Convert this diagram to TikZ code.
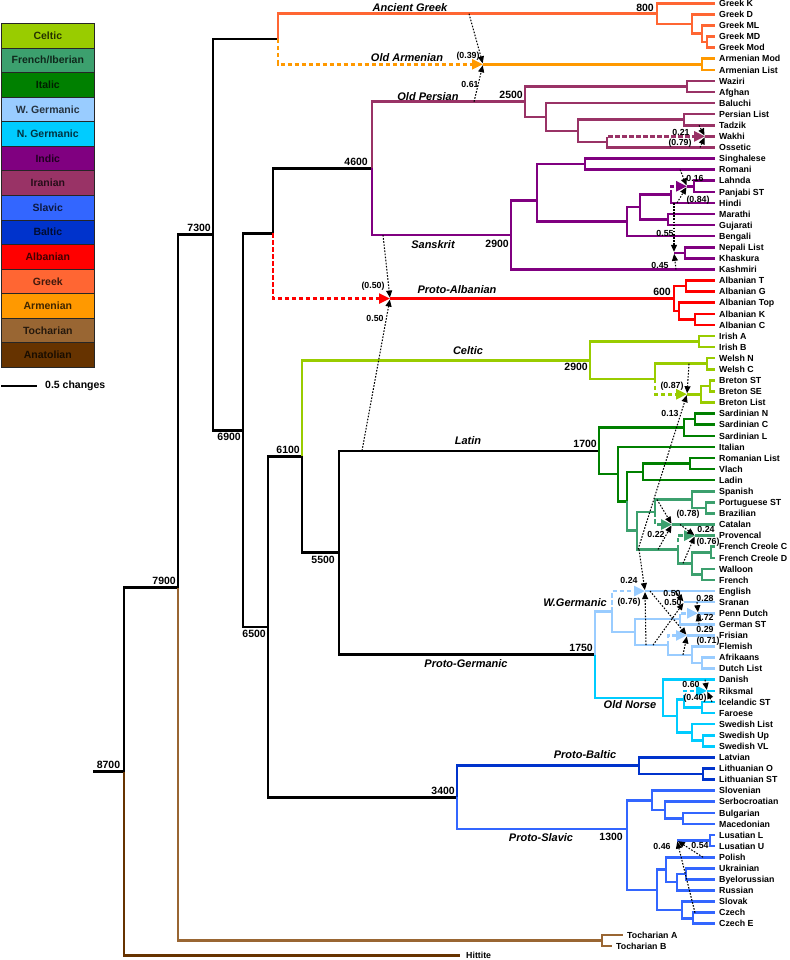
\documentclass[tikz,border=0pt]{standalone}
\usepackage{fontspec}
\setmainfont{Liberation Sans}
\usetikzlibrary{calc,arrows.meta}
\definecolor{cCel}{RGB}{153,204,0}
\definecolor{cFre}{RGB}{60,160,110}
\definecolor{cIta}{RGB}{0,128,0}
\definecolor{cWG}{RGB}{153,204,255}
\definecolor{cNG}{RGB}{0,204,255}
\definecolor{cInd}{RGB}{128,0,128}
\definecolor{cIra}{RGB}{153,51,102}
\definecolor{cSla}{RGB}{51,102,255}
\definecolor{cBal}{RGB}{0,51,204}
\definecolor{cAlb}{RGB}{255,0,0}
\definecolor{cGrk}{RGB}{255,102,51}
\definecolor{cArm}{RGB}{255,153,0}
\definecolor{cToc}{RGB}{153,102,51}
\definecolor{cAna}{RGB}{102,51,0}
\newcommand{\inode}[4]{\path let \p1=($(#2)!.5!(#3)$) in coordinate (#1) at (#4pt,\y1);}
\newcommand{\atx}[3]{\path let \p1=(#2) in coordinate (#1) at (#3pt,\y1);}
\begin{document}
\begin{tikzpicture}[x=1pt,y=-1pt,
  br/.style={line width=2.6pt},
  hyb/.style={line width=2.6pt, dash pattern=on 4.5pt off 2.5pt, -{Triangle[length=11pt,width=10pt]}},
  tr/.style={black, line width=1.05pt, dash pattern=on 1.6pt off 1.5pt, -{Triangle[length=7pt,width=6pt]}, shorten >=1pt},
  leaf/.style={anchor=base west, font=\fontsize{8.8}{9}\selectfont\bfseries, inner sep=0pt},
  clade/.style={font=\fontsize{11}{12}\selectfont\bfseries\itshape, inner sep=0pt},
  date/.style={font=\fontsize{10.5}{11}\selectfont\bfseries, inner sep=0pt},
  pr/.style={font=\fontsize{8.8}{9}\selectfont\bfseries, inner sep=0pt},
  lg/.style={draw=black!85, line width=0.6pt, minimum width=93pt, minimum height=24.57pt, anchor=north west, inner sep=0pt, font=\fontsize{10.5}{11}\selectfont\bfseries}
]
\useasboundingbox (0,0) rectangle (789,960);
% ---------- legend
\foreach \c/\t [count=\k from 0] in {cCel/Celtic,cFre/{French/Iberian},cIta/Italic,cWG/{W. Germanic},cNG/{N. Germanic},cInd/Indic,cIra/Iranian,cSla/Slavic,cBal/Baltic,cAlb/Albanian,cGrk/Greek,cArm/Armenian,cToc/Tocharian,cAna/Anatolian}{
  \node[lg, fill=\c, text=\c!25!black] (Lg\k) at (1,{23+24.57*\k}) {\t};
}
\coordinate (sb1) at (1,386); \coordinate (sb2) at (37,386);
\draw[line width=2pt] (sb1) -- (sb2);
\node[date, anchor=west] (sbt) at (45,386) {0.5 changes};
% ---------- leaves
\foreach \nm [count=\i from 0] in {Greek K,Greek D,Greek ML,Greek MD,Greek Mod,Armenian Mod,Armenian List,Waziri,Afghan,Baluchi,Persian List,Tadzik,Wakhi,Ossetic,Singhalese,Romani,Lahnda,Panjabi ST,Hindi,Marathi,Gujarati,Bengali,Nepali List,Khaskura,Kashmiri,Albanian T,Albanian G,Albanian Top,Albanian K,Albanian C,Irish A,Irish B,Welsh N,Welsh C,Breton ST,Breton SE,Breton List,Sardinian N,Sardinian C,Sardinian L,Italian,Romanian List,Vlach,Ladin,Spanish,Portuguese ST,Brazilian,Catalan,Provencal,French Creole C,French Creole D,Walloon,French,English,Sranan,Penn Dutch,German ST,Frisian,Flemish,Afrikaans,Dutch List,Danish,Riksmal,Icelandic ST,Faroese,Swedish List,Swedish Up,Swedish VL,Latvian,Lithuanian O,Lithuanian ST,Slovenian,Serbocroatian,Bulgarian,Macedonian,Lusatian L,Lusatian U,Polish,Ukrainian,Byelorussian,Russian,Slovak,Czech,Czech E}{
  \coordinate (L\i) at (715,{3.3+11.09*\i});
  \node[leaf] (T\i) at ($(L\i)+(4,3.2)$) {\nm};
}
\coordinate (L84) at (623,{3.3+11.09*84}); \node[leaf] (T84) at ($(L84)+(4,3.2)$) {Tocharian A};
\coordinate (L85) at (612,{3.3+11.09*85}); \node[leaf] (T85) at ($(L85)+(4,3.2)$) {Tocharian B};
\coordinate (L86) at (460,955.5); \node[leaf] (T86) at ($(L86)+(6,2.8)$) {Hittite};
% ---------- internal nodes
\inode{nGMM}{L3}{L4}{707}
\inode{nGML}{L2}{nGMM}{702}
\inode{nGD}{L1}{nGML}{692}
\inode{nGreek}{L0}{nGD}{657}
\inode{nArm}{L5}{L6}{702}
\atx{tArm}{nArm}{483}
\inode{nWA}{L7}{L8}{687}
\inode{nPT}{L10}{L11}{684}
\inode{nWO}{L12}{L13}{607}
\atx{tWak}{L12}{705}
\inode{nPTWO}{nPT}{nWO}{578}
\inode{nBal}{L9}{nPTWO}{546}
\inode{nIran}{nWA}{nBal}{525}
\inode{nSR}{L14}{L15}{585}
\inode{nLP}{L16}{L17}{694}
\atx{tLP}{nLP}{687}
\inode{nHi}{nLP}{L18}{671}
\inode{nMG}{L19}{L20}{668}
\inode{nHM}{nHi}{nMG}{640}
\inode{nBe}{nHM}{L21}{627}
\inode{nNK}{L22}{L23}{685}
\atx{tNK}{nNK}{674}
\inode{nBeNK}{nBe}{nNK}{627}
\inode{nSB}{nSR}{nBeNK}{537}
\inode{nIndic}{nSB}{L24}{511}
\inode{n4600}{nIran}{nIndic}{372}
\inode{nAT}{L25}{L26}{686}
\inode{nAK}{L28}{L29}{695}
\inode{nATop}{L27}{nAK}{679}
\inode{nAlb}{nAT}{nATop}{674}
\atx{tAlb}{nAlb}{390}
\inode{nIIA}{n4600}{nAlb}{273}
\inode{nIr}{L30}{L31}{699}
\inode{nWe}{L32}{L33}{707}
\inode{nBST}{L34}{L35}{710}
\inode{nBr}{nBST}{L36}{701}
\atx{tBr}{nBr}{687}
\inode{nBry}{nWe}{nBr}{655}
\inode{nCel}{nIr}{nBry}{590}
\inode{nSNC}{L37}{L38}{695}
\inode{nSard}{nSNC}{L39}{684}
\inode{nRV}{L41}{L42}{690}
\inode{nRVL}{nRV}{L43}{643}
\inode{nPB}{L45}{L46}{706}
\inode{nSp}{L44}{nPB}{692}
\inode{nSpCa}{nSp}{L47}{655}
\atx{tCa}{L47}{672}
\inode{nFC}{L49}{L50}{711}
\inode{nWF}{L51}{L52}{702}
\inode{nFCWF}{nFC}{nWF}{692}
\inode{nPr}{L48}{nFCWF}{678}
\atx{tPr}{L48}{695}
\inode{nFI}{nSpCa}{nPr}{637}
\inode{nRoFI}{nRVL}{nFI}{627}
\inode{nItRo}{L40}{nRoFI}{618}
\inode{nLatin}{nSard}{nItRo}{599}
\inode{nPD}{L55}{L56}{680}
\atx{tPD}{L55}{698}
\atx{tSr}{L54}{684}
\inode{nAD}{L59}{L60}{702}
\inode{nFAD}{L58}{nAD}{692}
\inode{nFr}{L57}{nFAD}{668}
\atx{tFr}{L57}{687}
\inode{nWG2}{nPD}{nFr}{635}
\inode{nWG}{L53}{nWG2}{612}
\atx{tEn}{L53}{645}
\inode{nIF}{L63}{L64}{702}
\inode{nRi}{L62}{nIF}{684}
\atx{tRi}{L62}{707}
\inode{nUV}{L66}{L67}{703}
\inode{nSw}{L65}{nUV}{692}
\inode{nRS}{nRi}{nSw}{677}
\inode{nNorse}{L61}{nRS}{663}
\inode{nPG}{nWG}{nNorse}{595}
\inode{n5500}{nLatin}{nPG}{339}
\inode{n6100}{nCel}{n5500}{302}
\inode{nLith}{L69}{L70}{703}
\inode{nBaltic}{L68}{nLith}{639}
\inode{nBM}{L73}{L74}{683}
\inode{nSBM}{L72}{nBM}{665}
\inode{nSlo}{L71}{nSBM}{652}
\inode{nLus}{L75}{L76}{710}
\atx{tLus}{nLus}{677}
\inode{nUB}{L78}{L79}{686}
\inode{nUBR}{nUB}{L80}{677}
\inode{nPE}{L77}{nUBR}{666}
\inode{nCz}{L82}{L83}{693}
\inode{nSk}{L81}{nCz}{682}
\inode{nPECS}{nPE}{nSk}{657}
\coordinate (nSlavic) at (627,829);
\inode{n3400}{nBaltic}{nSlavic}{457}
\inode{n6500}{n6100}{n3400}{268}
\inode{n6900}{nIIA}{n6500}{243}
\inode{nGA}{nGreek}{nArm}{278}
\inode{n7300}{nGA}{n6900}{213}
\inode{nToch}{L84}{L85}{602}
\inode{n7900}{n7300}{nToch}{178}
\inode{nRoot}{n7900}{L86}{124}
\atx{rootS}{nRoot}{93}
% ---------- branches
\draw[br] (rootS) -- (nRoot) (nRoot) |- (n7900) (n7900) |- (n7300) (n7300) |- (nGA) (n7300) |- (n6900)
  (n6900) |- (nIIA) (n6900) |- (n6500) (nIIA) |- (n4600) (n6500) |- (n6100) (n6500) |- (n3400)
  (n6100) |- (n5500) (n5500) |- (nLatin) (n5500) |- (nPG);
\draw[br,cAna] (nRoot) |- (L86);
\draw[br,cToc] (n7900) |- (nToch) (nToch) |- (L84) (nToch) |- (L85);
\draw[br,cGrk] (nGA) |- (nGreek) (nGreek) |- (L0) (nGreek) |- (nGD) (nGD) |- (L1) (nGD) |- (nGML) (nGML) |- (L2) (nGML) |- (nGMM) (nGMM) |- (L3) (nGMM) |- (L4);
\draw[hyb,cArm] (nGA) |- (tArm);
\draw[br,cArm] (tArm) -- (nArm) (nArm) |- (L5) (nArm) |- (L6);
\draw[hyb,cAlb] (nIIA) |- (tAlb);
\draw[br,cAlb] (tAlb) -- (nAlb) (nAlb) |- (nAT) (nAlb) |- (nATop) (nAT) |- (L25) (nAT) |- (L26) (nATop) |- (L27) (nATop) |- (nAK) (nAK) |- (L28) (nAK) |- (L29);
\draw[br,cIra] (n4600) |- (nIran) (nIran) |- (nWA) (nIran) |- (nBal) (nWA) |- (L7) (nWA) |- (L8) (nBal) |- (L9) (nBal) |- (nPTWO) (nPTWO) |- (nPT) (nPTWO) |- (nWO) (nPT) |- (L10) (nPT) |- (L11) (nWO) |- (L13) (tWak) -- (L12);
\draw[hyb,cIra] (nWO) |- (tWak);
\draw[br,cInd] (n4600) |- (nIndic) (nIndic) |- (nSB) (nIndic) |- (L24) (nSB) |- (nSR) (nSB) |- (nBe) (nSR) |- (L14) (nSR) |- (L15) (nBe) |- (nHM) (nBe) |- (L21) (nHM) |- (nHi) (nHM) |- (nMG) (nMG) |- (L19) (nMG) |- (L20) (nHi) |- (L18) (tLP) -- (nLP) (nLP) |- (L16) (nLP) |- (L17) (tNK) -- (nNK) (nNK) |- (L22) (nNK) |- (L23);
\draw[hyb,cInd] (nHi) |- (tLP);
\draw[br,cCel] (n6100) |- (nCel) (nCel) |- (nIr) (nCel) |- (nBry) (nIr) |- (L30) (nIr) |- (L31) (nBry) |- (nWe) (nWe) |- (L32) (nWe) |- (L33) (tBr) -- (nBr) (nBr) |- (nBST) (nBr) |- (L36) (nBST) |- (L34) (nBST) |- (L35);
\draw[hyb,cCel] (nBry) |- (tBr);
\draw[br,cIta] (nLatin) |- (nSard) (nLatin) |- (nItRo) (nSard) |- (nSNC) (nSard) |- (L39) (nSNC) |- (L37) (nSNC) |- (L38) (nItRo) |- (L40) (nItRo) |- (nRoFI) (nRoFI) |- (nRVL) (nRVL) |- (nRV) (nRVL) |- (L43) (nRV) |- (L41) (nRV) |- (L42);
\draw[br,cFre] (nRoFI) |- (nFI) (nFI) |- (nSpCa) (nFI) |- (nPr) (nSpCa) |- (nSp) (nSp) |- (L44) (nSp) |- (nPB) (nPB) |- (L45) (nPB) |- (L46) (tCa) -- (L47) (tPr) -- (L48) (nPr) |- (nFCWF) (nFCWF) |- (nFC) (nFCWF) |- (nWF) (nFC) |- (L49) (nFC) |- (L50) (nWF) |- (L51) (nWF) |- (L52);
\draw[hyb,cFre] (nSpCa) |- (tCa);
\draw[hyb,cFre] (nPr) |- (tPr);
\draw[br,cWG] (nPG) |- (nWG) (nWG) |- (nWG2) (nWG2) |- (nPD) (nWG2) |- (nFr) (tEn) -- (L53) (tSr) -- (L54) (tPD) -- (L55) (nPD) |- (L56) (tFr) -- (L57) (nFr) |- (nFAD) (nFAD) |- (L58) (nFAD) |- (nAD) (nAD) |- (L59) (nAD) |- (L60);
\draw[hyb,cWG] (nWG) |- (tEn);
\draw[hyb,cWG] (nPD) |- (tPD);
\draw[hyb,cWG] (nFr) |- (tFr);
\draw[br,cNG] (nPG) |- (nNorse) (nNorse) |- (L61) (nNorse) |- (nRS) (nRS) |- (nRi) (nRS) |- (nSw) (tRi) -- (L62) (nRi) |- (nIF) (nIF) |- (L63) (nIF) |- (L64) (nSw) |- (L65) (nSw) |- (nUV) (nUV) |- (L66) (nUV) |- (L67);
\draw[hyb,cNG] (nRi) |- (tRi);
\draw[br,cBal] (n3400) |- (nBaltic) (nBaltic) |- (L68) (nBaltic) |- (nLith) (nLith) |- (L69) (nLith) |- (L70);
\draw[br,cSla] (n3400) |- (nSlavic) (nSlavic) |- (nSlo) (nSlavic) |- (nPECS) (nSlo) |- (L71) (nSlo) |- (nSBM) (nSBM) |- (L72) (nSBM) |- (nBM) (nBM) |- (L73) (nBM) |- (L74) (tLus) -- (nLus) (nLus) |- (L75) (nLus) |- (L76) (nPECS) |- (nPE) (nPECS) |- (nSk) (nPE) |- (L77) (nPE) |- (nUBR) (nUBR) |- (nUB) (nUBR) |- (L80) (nUB) |- (L78) (nUB) |- (L79) (nSk) |- (L81) (nSk) |- (nCz) (nCz) |- (L82) (nCz) |- (L83);
% ---------- transfer arrows
\atx{sArm1}{nGreek}{469} \atx{sArm2}{nIran}{474}
\atx{sAlb1}{nIndic}{383} \atx{sAlb2}{nLatin}{362}
\atx{sWak1}{L11}{699} \atx{sWak2}{L13}{700}
\atx{sLP1}{L15}{680} \atx{sLP2}{L18}{677}
\atx{sNK1}{L18}{674} \atx{sNK2}{L24}{676}
\atx{sBr1}{nWe}{689} \atx{sBr2}{nPr}{638}
\atx{sCa1}{nSp}{657} \atx{sCa2}{nPr}{658}
\atx{sPr1}{L47}{680} \atx{sPr2}{nFCWF}{683}
\atx{sEn1}{nPr}{639} \atx{sEn2}{nFr}{646}
\atx{sSr1}{L53}{675} \atx{sSr2}{nFr}{653}
\atx{sPD1}{L54}{697} \atx{sPD2}{L56}{699}
\atx{sFr1}{L53}{650} \atx{sFr2}{nFAD}{683}
\atx{sRi1}{L61}{705} \atx{sRi2}{L63}{712}
\atx{sLus1}{L82}{695} \atx{sLus2}{L77}{703}
\draw[tr] (sArm1) -- (tArm); \draw[tr] (sArm2) -- (tArm);
\draw[tr] (sAlb1) -- (tAlb); \draw[tr] (sAlb2) -- (tAlb);
\draw[tr] (sWak1) -- (tWak); \draw[tr] (sWak2) -- (tWak);
\draw[tr] (sLP1) -- (tLP); \draw[tr] (sLP2) -- (tLP);
\draw[tr] (sNK1) -- (tNK); \draw[tr] (sNK2) -- (tNK);
\draw[tr] (sBr1) -- (tBr); \draw[tr] (sBr2) -- (tBr);
\draw[tr] (sCa1) -- (tCa); \draw[tr] (sCa2) -- (tCa);
\draw[tr] (sPr1) -- (tPr); \draw[tr] (sPr2) -- (tPr);
\draw[tr] (sEn1) -- (tEn); \draw[tr] (sEn2) -- (tEn);
\draw[tr] (sSr1) -- (tSr); \draw[tr] (sSr2) -- (tSr);
\draw[tr] (sPD1) -- (tPD); \draw[tr] (sPD2) -- (tPD);
\draw[tr] (sFr1) -- (tFr); \draw[tr] (sFr2) -- (tFr);
\draw[tr] (sRi1) -- (tRi); \draw[tr] (sRi2) -- (tRi);
\draw[tr] (sLus1) -- (tLus); \draw[tr] (sLus2) -- (tLus);
% ---------- proportions
\node[pr] (p1) at (468,56) {(0.39)};
\node[pr] (p2) at (470,84) {0.61};
\node[pr] (p3) at (681,132) {0.21};
\node[pr] (p4) at (680,143) {(0.79)};
\node[pr] (p5) at (695,178) {0.16};
\node[pr] (p6) at (698,200) {(0.84)};
\node[pr] (p7) at (665,233) {0.55};
\node[pr] (p8) at (660,265) {0.45};
\node[pr] (p9) at (373,286) {(0.50)};
\node[pr] (p10) at (375,318) {0.50};
\node[pr] (p11) at (672,386) {(0.87)};
\node[pr] (p12) at (670,413) {0.13};
\node[pr] (p13) at (688,514) {(0.78)};
\node[pr] (p14) at (656,534) {0.22};
\node[pr] (p15) at (706,529) {0.24};
\node[pr] (p16) at (708,542) {(0.76)};
\node[pr] (p17) at (629,580) {0.24};
\node[pr] (p18) at (629,602) {(0.76)};
\node[pr] (p19) at (672,593) {0.50};
\node[pr] (p20) at (673,602) {0.50};
\node[pr] (p21) at (705,598) {0.28};
\node[pr] (p22) at (705,617) {0.72};
\node[pr] (p23) at (705,629) {0.29};
\node[pr] (p24) at (708,641) {(0.71)};
\node[pr] (p25) at (691,684) {0.60};
\node[pr] (p26) at (695,698) {(0.40)};
\node[pr] (p27) at (662,846) {0.46};
\node[pr] (p28) at (700,845) {0.54};
% ---------- clade names
\node[clade] (k1) at (410,7.5) {Ancient Greek};
\node[clade] (k2) at (407,57.7) {Old Armenian};
\node[clade] (k3) at (428,96.7) {Old Persian};
\node[clade] (k4) at (433,244.3) {Sanskrit};
\node[clade] (k5) at (457,289.3) {Proto-Albanian};
\node[clade] (k6) at (468,351) {Celtic};
\node[clade] (k7) at (468,441) {Latin};
\node[clade] (k8) at (575,603) {W.Germanic};
\node[clade] (k9) at (466,664) {Proto-Germanic};
\node[clade] (k10) at (630,705) {Old Norse};
\node[clade] (k11) at (585,755) {Proto-Baltic};
\node[clade] (k12) at (541,838) {Proto-Slavic};
% ---------- dates
\node[date, anchor=south] (d1) at ($(rootS)!.5!(nRoot)+(0,-3)$) {8700};
\node[date, anchor=south east] (d2) at ($(n7900)+(-2,-3)$) {7900};
\node[date, anchor=south east] (d3) at ($(n7300)+(-2,-3)$) {7300};
\node[date, anchor=north east] (d4) at ($(n6900)+(-2,3)$) {6900};
\node[date, anchor=north east] (d5) at ($(n6500)+(-2,3)$) {6500};
\node[date, anchor=south east] (d6) at ($(n6100)+(-2,-3)$) {6100};
\node[date, anchor=north east] (d7) at ($(n5500)+(-4,3)$) {5500};
\node[date, anchor=south east] (d8) at ($(n4600)+(-4,-3)$) {4600};
\node[date, anchor=south east] (d9) at ($(nIran)+(-2,-3)$) {2500};
\node[date, anchor=north east] (d10) at ($(nIndic)+(-2,5)$) {2900};
\node[date, anchor=south east] (d11) at ($(nGreek)+(-3,-2)$) {800};
\node[date, anchor=south east] (d12) at ($(nAlb)+(-3,-3)$) {600};
\node[date, anchor=north east] (d13) at ($(nCel)+(-2,3)$) {2900};
\node[date, anchor=south east] (d14) at ($(nLatin)+(-2,-3)$) {1700};
\node[date, anchor=south east] (d15) at ($(nPG)+(-2,-3)$) {1750};
\node[date, anchor=south east] (d16) at ($(n3400)+(-2,-3)$) {3400};
\node[date, anchor=north east] (d17) at ($(nSlavic)+(-4,4)$) {1300};
\end{tikzpicture}
\end{document}
